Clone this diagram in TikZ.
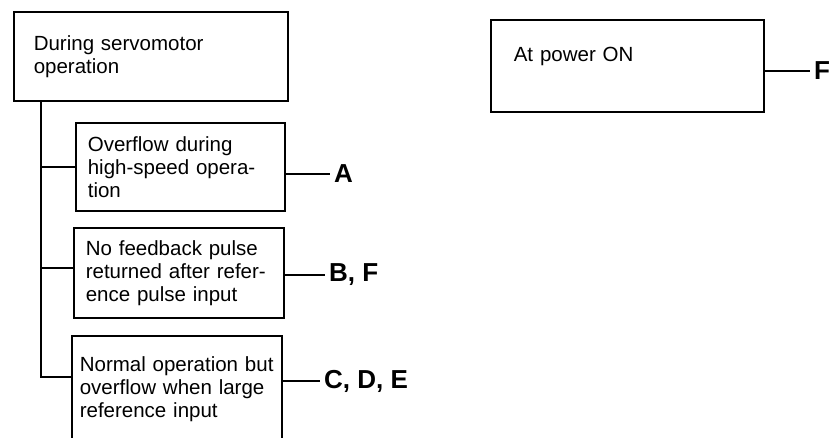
\documentclass[tikz,border=0pt]{standalone}
\usepackage{fontspec}
\setmainfont{Liberation Sans}
\usetikzlibrary{positioning}

\begin{document}
\begin{tikzpicture}[
  x=1pt, y=-1pt,
  font=\fontsize{20.5}{23}\selectfont,
  box/.style={draw, line width=1.6pt, rectangle, anchor=north west,
              align=left, inner ysep=0pt},
  wire/.style={line width=1.6pt},
  lbl/.style={font=\fontsize{26}{26}\selectfont\bfseries, anchor=west,
              inner xsep=4pt, inner ysep=0pt},
]

  \useasboundingbox (0,0) rectangle (829,437);

  % --- Top boxes ---
  \node[box, text width=234pt, inner xsep=20pt, minimum height=89pt]
    (servo) at (13,11) {During servomotor\\operation};
  \node[box, text width=227pt, inner xsep=23pt, minimum height=92pt]
    (poweron) at (490,19) {At power ON\\\mbox{}};

  % --- Cases under servomotor operation ---
  \node[box, text width=185pt, inner xsep=12pt, minimum height=88pt]
    (overflow) at (75,122) {Overflow during\\high-speed opera-\\tion};
  \node[box, text width=186pt, inner xsep=12pt, minimum height=90pt]
    (nofb) at (73,227) {No feedback pulse\\returned after refer-\\ence pulse input};
  \node[box, text width=194pt, inner xsep=8pt, minimum height=106pt]
    (normal) at (71,335) {Normal operation but\\overflow when large\\reference input};

  % --- Cause labels ---
  \node[lbl] (labA)   at (330,174) {A};
  \node[lbl] (labBF)  at (325,275) {B, F};
  \node[lbl] (labCDE) at (320,381) {C, D, E};
  \node[lbl] (labF)   at (810,71)  {F};

  % --- Tree ---
  \coordinate (trunk) at ([xshift=28pt]servo.south west);
  \draw[wire] (trunk) |- ([yshift=12pt]normal.west);
  \draw[wire] (trunk |- overflow.west) -- (overflow.west);
  \draw[wire] (trunk |- nofb.west) ++(0,-5) -- ([yshift=5pt]nofb.west);

  % --- To causes ---
  \draw[wire] (labA.west -| overflow.east) -- (labA.west);
  \draw[wire] (labBF.west -| nofb.east) -- (labBF.west);
  \draw[wire] (labCDE.west -| normal.east) -- (labCDE.west);
  \draw[wire] (labF.west -| poweron.east) -- (labF.west);

\end{tikzpicture}
\end{document}
